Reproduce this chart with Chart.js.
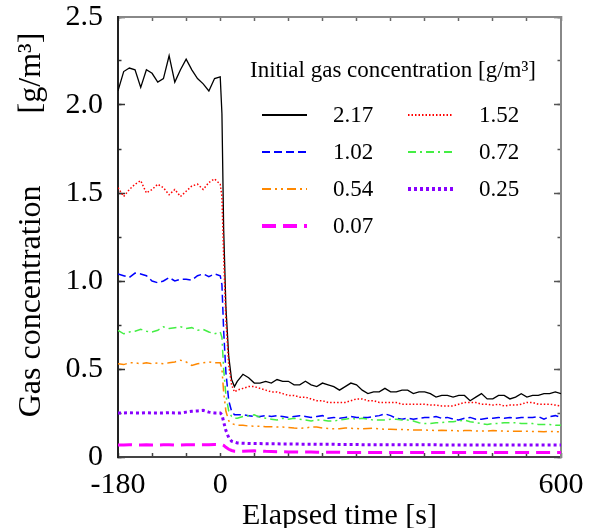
<!DOCTYPE html>
<html>
<head>
<meta charset="utf-8">
<script src="https://cdn.jsdelivr.net/npm/chart.js@4.4.1/dist/chart.umd.min.js"></script>
<style>
  html, body { margin: 0; padding: 0; background: #ffffff; }
  #wrap { width: 590px; height: 528px; }
</style>
</head>
<body>
<div id="wrap"><canvas id="c" width="590" height="528"></canvas></div>
<script>
// ---------- data ----------
const times = [
  -180, -170, -160, -150, -140, -130, -120, -110, -100, -90,
  -80, -70, -60, -50, -40, -30, -20, -10, 0,
  3, 6, 10, 15, 20, 25,
  30, 40, 50, 60, 70, 80, 90, 100, 110, 120,
  130, 140, 150, 160, 170, 180, 190, 200, 210, 220,
  230, 240, 250, 260, 270, 280, 290, 300, 310, 320,
  330, 340, 350, 360, 370, 380, 390, 400, 410, 420,
  430, 440, 450, 460, 470, 480, 490, 500, 510, 520,
  530, 540, 550, 560, 570, 580, 590, 600
];

const seriesLabels = ['2.17', '1.52', '1.02', '0.72', '0.54', '0.25', '0.07'];

const c217 = [
  2.08, 2.19, 2.21, 2.20, 2.10, 2.20, 2.18, 2.13, 2.15, 2.28,
  2.13, 2.20, 2.26, 2.20, 2.15, 2.12, 2.08, 2.15, 2.16,
  1.95, 1.30, 0.85, 0.57, 0.44, 0.40,
  0.43, 0.47, 0.45, 0.42, 0.42, 0.43, 0.42, 0.44, 0.43, 0.43,
  0.41, 0.41, 0.43, 0.41, 0.40, 0.42, 0.41, 0.40, 0.38, 0.40,
  0.42, 0.41, 0.38, 0.36, 0.37, 0.37, 0.39, 0.37, 0.37, 0.38,
  0.38, 0.36, 0.37, 0.37, 0.36, 0.34, 0.35, 0.35, 0.34, 0.35,
  0.35, 0.32, 0.34, 0.36, 0.33, 0.33, 0.35, 0.35, 0.33, 0.34,
  0.36, 0.34, 0.35, 0.35, 0.36, 0.36, 0.37, 0.36
];
const c152 = [
  1.53, 1.48, 1.52, 1.55, 1.57, 1.50, 1.52, 1.55, 1.53, 1.49,
  1.52, 1.48, 1.51, 1.54, 1.55, 1.52, 1.56, 1.58, 1.55,
  1.48, 1.15, 0.78, 0.52, 0.41, 0.37,
  0.38, 0.39, 0.40, 0.40, 0.39, 0.38, 0.37, 0.37, 0.36, 0.35,
  0.35, 0.34, 0.34, 0.33, 0.32, 0.32, 0.31, 0.31, 0.31, 0.31,
  0.32, 0.33, 0.33, 0.32, 0.32, 0.31, 0.31, 0.31, 0.31, 0.30,
  0.30, 0.30, 0.30, 0.30, 0.295, 0.295, 0.29, 0.29, 0.29, 0.30,
  0.31, 0.31, 0.31, 0.30, 0.30, 0.295, 0.30, 0.29, 0.295, 0.295,
  0.30, 0.31, 0.31, 0.30, 0.30, 0.30, 0.295, 0.29
];
const c102 = [
  1.04, 1.03, 1.02, 1.045, 1.04, 1.03, 1.00, 0.99, 1.00, 1.02,
  1.00, 1.01, 1.01, 1.005, 1.03, 1.04, 1.025, 1.04, 1.03,
  0.98, 0.72, 0.48, 0.32, 0.26, 0.24,
  0.24, 0.24, 0.235, 0.23, 0.23, 0.235, 0.23, 0.235, 0.23, 0.225,
  0.23, 0.235, 0.23, 0.225, 0.23, 0.235, 0.22, 0.225, 0.22, 0.225,
  0.23, 0.225, 0.225, 0.225, 0.23, 0.235, 0.245, 0.235, 0.22, 0.215,
  0.22, 0.215, 0.22, 0.225, 0.225, 0.23, 0.22, 0.225, 0.215, 0.21,
  0.22, 0.225, 0.215, 0.215, 0.22, 0.22, 0.225, 0.22, 0.225, 0.22,
  0.225, 0.225, 0.225, 0.23, 0.215, 0.23, 0.235, 0.225
];
const c072 = [
  0.72, 0.70, 0.71, 0.715, 0.725, 0.715, 0.71, 0.72, 0.74, 0.73,
  0.735, 0.74, 0.73, 0.735, 0.72, 0.725, 0.71, 0.70, 0.71,
  0.68, 0.50, 0.35, 0.26, 0.23, 0.22,
  0.22, 0.23, 0.235, 0.24, 0.225, 0.22, 0.215, 0.21, 0.22, 0.215,
  0.22, 0.215, 0.21, 0.205, 0.21, 0.21, 0.205, 0.205, 0.21, 0.215,
  0.22, 0.215, 0.22, 0.215, 0.21, 0.21, 0.21, 0.215, 0.215, 0.21,
  0.21, 0.205, 0.195, 0.19, 0.19, 0.195, 0.195, 0.20, 0.20, 0.205,
  0.21, 0.20, 0.195, 0.19, 0.185, 0.19, 0.19, 0.195, 0.195, 0.195,
  0.19, 0.19, 0.19, 0.185, 0.185, 0.185, 0.18, 0.18
];
const c054 = [
  0.53, 0.525, 0.535, 0.535, 0.53, 0.535, 0.53, 0.535, 0.53, 0.535,
  0.54, 0.55, 0.54, 0.52, 0.53, 0.535, 0.54, 0.535, 0.535,
  0.50, 0.37, 0.26, 0.205, 0.19, 0.185,
  0.18, 0.18, 0.176, 0.175, 0.175, 0.172, 0.172, 0.17, 0.17, 0.168,
  0.165, 0.163, 0.165, 0.17, 0.17, 0.165, 0.162, 0.16, 0.16, 0.165,
  0.163, 0.162, 0.16, 0.162, 0.163, 0.16, 0.158, 0.157, 0.156, 0.156,
  0.155, 0.153, 0.153, 0.153, 0.152, 0.15, 0.152, 0.15, 0.15, 0.148,
  0.15, 0.15, 0.148, 0.147, 0.148, 0.15, 0.148, 0.147, 0.146, 0.146,
  0.147, 0.146, 0.145, 0.145, 0.144, 0.145, 0.144, 0.144
];
const c025 = [
  0.25, 0.25, 0.252, 0.25, 0.25, 0.252, 0.25, 0.25, 0.25, 0.252,
  0.25, 0.25, 0.255, 0.26, 0.262, 0.265, 0.255, 0.25, 0.25,
  0.24, 0.20, 0.15, 0.11, 0.09, 0.085,
  0.08, 0.078, 0.077, 0.076, 0.076, 0.075, 0.075, 0.075, 0.074, 0.074,
  0.074, 0.073, 0.073, 0.073, 0.072, 0.072, 0.072, 0.072, 0.071, 0.071,
  0.071, 0.071, 0.07, 0.07, 0.07, 0.07, 0.07, 0.07, 0.07, 0.069,
  0.069, 0.069, 0.069, 0.069, 0.069, 0.069, 0.068, 0.068, 0.068, 0.068,
  0.068, 0.068, 0.068, 0.068, 0.068, 0.068, 0.068, 0.068, 0.068, 0.068,
  0.068, 0.068, 0.068, 0.068, 0.068, 0.068, 0.068, 0.068
];
const c007 = [
  0.068, 0.068, 0.07, 0.068, 0.068, 0.069, 0.068, 0.068, 0.069, 0.07,
  0.068, 0.068, 0.069, 0.07, 0.069, 0.069, 0.07, 0.071, 0.07,
  0.07, 0.066, 0.055, 0.044, 0.037, 0.033,
  0.032, 0.033, 0.034, 0.035, 0.034, 0.032, 0.031, 0.03, 0.03, 0.029,
  0.029, 0.028, 0.028, 0.028, 0.027, 0.027, 0.027, 0.027, 0.027, 0.026,
  0.026, 0.026, 0.026, 0.026, 0.026, 0.026, 0.026, 0.026, 0.026, 0.026,
  0.026, 0.026, 0.025, 0.025, 0.025, 0.025, 0.025, 0.025, 0.025, 0.025,
  0.025, 0.025, 0.025, 0.025, 0.025, 0.025, 0.025, 0.025, 0.025, 0.025,
  0.025, 0.025, 0.025, 0.025, 0.025, 0.025, 0.025, 0.025
];

const xTickLabels = [-180, 0, 600];
const yTickLabels = ['0', '0.5', '1.0', '1.5', '2.0', '2.5'];

const legendTitle = 'Initial gas concentration [g/m\u00B3]';
const xTitle = 'Elapsed time [s]';
const yTitle = '   Gas concentration         [g/m\u00B3]';

// ---------- styles ----------
const SERIF = '"Liberation Serif", "Times New Roman", serif';
const styles = [
  { color: '#000000', width: 1.3, dash: [] },
  { color: '#ff0000', width: 1.5, dash: [1.5, 2] },
  { color: '#0000ff', width: 1.5, dash: [8, 4] },
  { color: '#44ee44', width: 1.5, dash: [8, 4, 2, 4] },
  { color: '#ff8800', width: 1.5, dash: [9, 4, 2, 4, 2, 4] },
  { color: '#8800ff', width: 3, dash: [3, 3] },
  { color: '#ff00ff', width: 3, dash: [14, 7] }
];
const allSeries = [c217, c152, c102, c072, c054, c025, c007];

const datasets = allSeries.map((vals, i) => ({
  label: seriesLabels[i],
  data: times.map((t, k) => ({ x: t, y: vals[k] })),
  borderColor: styles[i].color,
  borderWidth: styles[i].width,
  borderDash: styles[i].dash,
  pointRadius: 0,
  tension: 0,
  fill: false
})).reverse();

const legendPlugin = {
  id: 'customLegend',
  afterDatasetsDraw(chart) {
    const ctx = chart.ctx;
    ctx.save();
    ctx.fillStyle = '#000';
    ctx.textBaseline = 'middle';
    ctx.textAlign = 'left';
    ctx.font = '23px ' + SERIF;
    ctx.fillText(legendTitle, 250, 71);
    const rows = [115, 152, 189, 226];
    const lineX = [[262, 307], [408, 453]];
    const labX = [333, 479];
    seriesLabels.forEach((lab, i) => {
      const col = i % 2, row = Math.floor(i / 2);
      const st = styles[i];
      const y = rows[row];
      ctx.beginPath();
      ctx.setLineDash(st.dash);
      ctx.lineWidth = st.width < 2 ? 2 : 4;
      ctx.strokeStyle = st.color;
      ctx.moveTo(lineX[col][0], y);
      ctx.lineTo(lineX[col][1], y);
      ctx.stroke();
      ctx.setLineDash([]);
      ctx.fillText(lab, labX[col], y + 1);
    });
    ctx.restore();
  }
};

const tickFont = { family: SERIF, size: 30 };
function fixSize(prop, val) {
  return s => {
    s[prop] = val;
    s.paddingTop = 0; s.paddingBottom = 0; s.paddingLeft = 0; s.paddingRight = 0;
  };
}

new Chart(document.getElementById('c'), {
  type: 'line',
  data: { datasets },
  options: {
    responsive: false,
    animation: false,
    devicePixelRatio: 1,
    layout: { padding: 0 },
    plugins: { legend: { display: false }, tooltip: { enabled: false } },
    scales: {
      x: {
        type: 'linear', position: 'bottom', min: -180, max: 600, weight: 1,
        ticks: {
          stepSize: 60, autoSkip: false, maxRotation: 0, color: '#000', font: tickFont, padding: 14,
          callback: v => xTickLabels.includes(v) ? String(v) : ''
        },
        grid: { drawOnChartArea: false, tickLength: -4, tickColor: '#444', tickWidth: 1.5 },
        border: { color: '#444', width: 2 },
        title: { display: true, text: xTitle, color: '#000', font: { family: SERIF, size: 30 }, padding: { top: 0, bottom: -6 } },
        afterFit: fixSize('height', 71)
      },
      xTop: {
        type: 'linear', position: 'top', min: -180, max: 600,
        ticks: { stepSize: 60, display: false },
        grid: { drawOnChartArea: false, tickLength: -4, tickColor: '#666', tickWidth: 1.5 },
        border: { color: '#888', width: 2 },
        afterFit: fixSize('height', 17)
      },
      y: {
        type: 'linear', position: 'left', min: 0, max: 2.5, weight: 1,
        ticks: {
          stepSize: 0.5, color: '#000', font: tickFont, padding: 22,
          callback: (v, i) => yTickLabels[i]
        },
        grid: { drawOnChartArea: false, tickLength: -7, tickColor: '#333', tickWidth: 1.5 },
        border: { color: '#222', width: 2 },
        title: { display: true, text: yTitle, color: '#000', font: { family: SERIF, size: 32 }, padding: { top: 12, bottom: 0 } },
        afterFit: fixSize('width', 118)
      },
      yMinor: {
        type: 'linear', position: 'left', min: 0, max: 2.5, weight: 0,
        ticks: { stepSize: 0.25, display: false },
        grid: { drawOnChartArea: false, tickLength: -3.5, tickColor: '#333', tickWidth: 1.5 },
        border: { display: false },
        afterFit: fixSize('width', 0)
      },
      yR: {
        type: 'linear', position: 'right', min: 0, max: 2.5, weight: 1,
        ticks: { stepSize: 0.5, display: false },
        grid: { drawOnChartArea: false, tickLength: -7, tickColor: '#555', tickWidth: 1.5 },
        border: { color: '#888', width: 2 },
        afterFit: fixSize('width', 29)
      },
      yRMinor: {
        type: 'linear', position: 'right', min: 0, max: 2.5, weight: 0,
        ticks: { stepSize: 0.25, display: false },
        grid: { drawOnChartArea: false, tickLength: -3.5, tickColor: '#555', tickWidth: 1.5 },
        border: { display: false },
        afterFit: fixSize('width', 0)
      }
    }
  },
  plugins: [legendPlugin]
});
</script>
</body>
</html>
